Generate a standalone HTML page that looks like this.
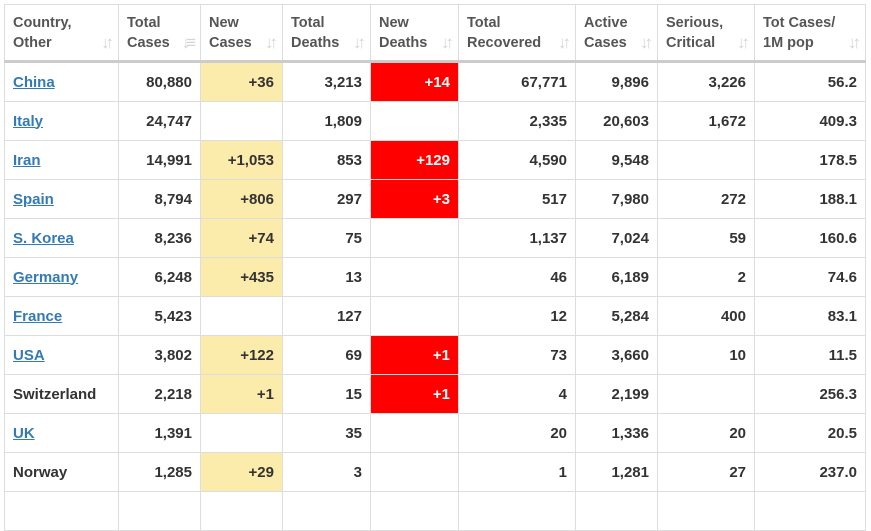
<!DOCTYPE html>
<html><head><meta charset="utf-8"><style>
body{margin:0;background:#fff;width:871px;height:500px;overflow:hidden;font-family:"Liberation Sans",Arial,sans-serif}
table{position:absolute;left:4px;top:4px;border-collapse:collapse;table-layout:fixed}
td,th{border:1px solid #ddd;padding:0 8px;font-size:15px;font-weight:bold;color:#333;text-align:right;height:38px;white-space:nowrap}
th{height:55px;text-align:left;color:#555;font-size:14.5px;line-height:20px;vertical-align:middle;border-bottom:3px solid #ccc;position:relative}
th .s{position:absolute;right:8px;bottom:9px;color:#d4d4d4;font-size:17px;letter-spacing:-4px;line-height:17px}
td.c{text-align:left}
td a{color:#337ab7;text-decoration:underline}
td.y{background:#fcecac}
td.r{background:#f00;color:#fff}
</style></head><body>
<table>
<colgroup><col style="width:114px"><col style="width:82px"><col style="width:82px"><col style="width:88px"><col style="width:88px"><col style="width:117px"><col style="width:82px"><col style="width:97px"><col style="width:111px"></colgroup>
<thead><tr>
<th>Country,<br>Other<span class="s">↓↑</span></th>
<th>Total<br>Cases<span class="s">↓≡</span></th>
<th>New<br>Cases<span class="s">↓↑</span></th>
<th>Total<br>Deaths<span class="s">↓↑</span></th>
<th>New<br>Deaths<span class="s">↓↑</span></th>
<th>Total<br>Recovered<span class="s">↓↑</span></th>
<th>Active<br>Cases<span class="s">↓↑</span></th>
<th>Serious,<br>Critical<span class="s">↓↑</span></th>
<th>Tot Cases/<br>1M pop<span class="s">↓↑</span></th>
</tr></thead>
<tbody id="tb"></tbody></table>
<script>
const countries=["China","Italy","Iran","Spain","S. Korea","Germany","France","USA","Switzerland","UK","Norway",""];
const linked=[1,1,1,1,1,1,1,1,0,1,0,0];
const totalCases=["80,880","24,747","14,991","8,794","8,236","6,248","5,423","3,802","2,218","1,391","1,285",""];
const newCases=["+36","","+1,053","+806","+74","+435","","+122","+1","","+29",""];
const totalDeaths=["3,213","1,809","853","297","75","13","127","69","15","35","3",""];
const newDeaths=["+14","","+129","+3","","","","+1","+1","","",""];
const recovered=["67,771","2,335","4,590","517","1,137","46","12","73","4","20","1",""];
const active=["9,896","20,603","9,548","7,980","7,024","6,189","5,284","3,660","2,199","1,336","1,281",""];
const serious=["3,226","1,672","","272","59","2","400","10","","20","27",""];
const perMillion=["56.2","409.3","178.5","188.1","160.6","74.6","83.1","11.5","256.3","20.5","237.0",""];
const tb=document.getElementById('tb');
countries.forEach((c,i)=>{
 const tr=document.createElement('tr');
 
 
 const cells=[c,totalCases[i],newCases[i],totalDeaths[i],newDeaths[i],recovered[i],active[i],serious[i],perMillion[i]];
 cells.forEach((v,j)=>{
  const td=document.createElement('td');
  
  
  if(j===0){td.className='c';
   if(linked[i]){const a=document.createElement('a');a.textContent=v;
    
    
    td.appendChild(a);}else td.textContent=v;}
  else td.textContent=v;
  if(j===2&&v)td.className='y';
  if(j===4&&v)td.className='r';
  tr.appendChild(td);
 });
 tb.appendChild(tr);
});
</script>
</body></html>
